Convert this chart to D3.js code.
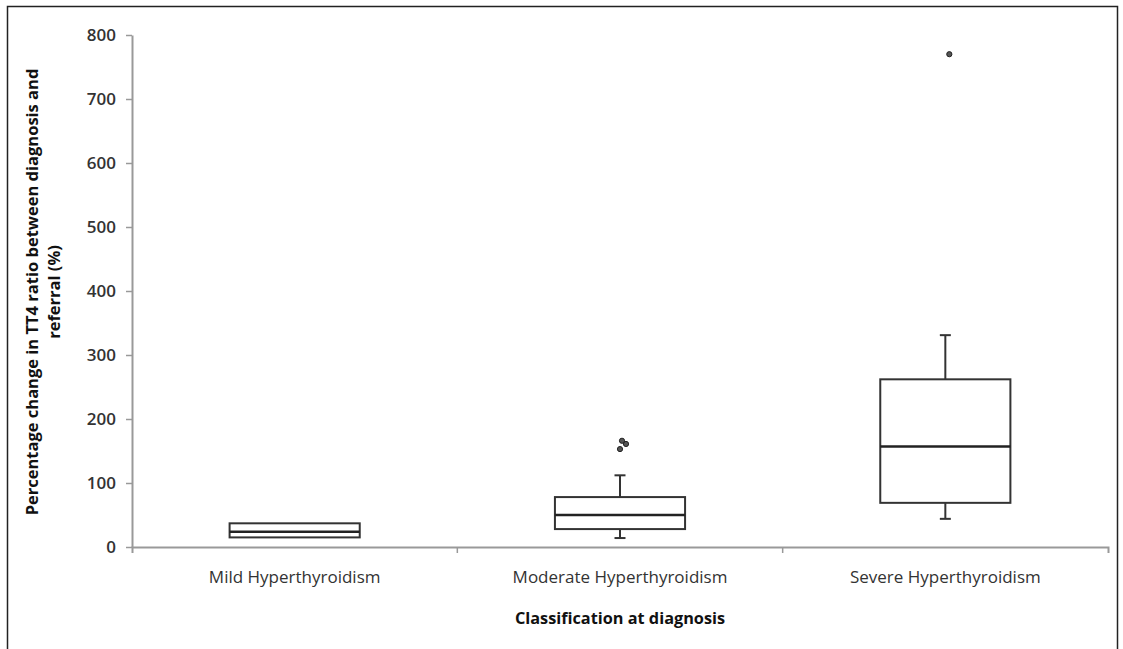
<!DOCTYPE html>
<html>
<head>
<meta charset="utf-8">
<script src="https://cdn.jsdelivr.net/npm/d3@7/dist/d3.min.js"></script>
<style>
  html, body { margin: 0; padding: 0; background: #fff; }
  svg { display: block; }
  text { font-family: "Open Sans", "Liberation Sans", sans-serif; }
</style>
</head>
<body>
<svg id="chart" width="1123" height="649"></svg>
<script>
// ---- data ----
const categories = ["Mild Hyperthyroidism", "Moderate Hyperthyroidism", "Severe Hyperthyroidism"];
const whiskerLow  = [15, 14, 44];
const q1          = [15, 28, 69];
const median      = [24, 50, 157];
const q3          = [37, 78, 262];
const whiskerHigh = [37, 112, 331];
const outliers    = [[], [153, 161, 166], [770]];
const yTicks      = [0, 100, 200, 300, 400, 500, 600, 700, 800];
const yTitle      = ["Percentage change in TT4 ratio between diagnosis and", "referral (%)"];
const xTitle      = "Classification at diagnosis";

// ---- layout ----
const svg = d3.select("#chart");
const plot = { left: 132, right: 1108, top: 35, bottom: 547 };

// frame
svg.append("rect")
  .attr("x", 7.5).attr("y", 6.5)
  .attr("width", 1110).attr("height", 650)
  .attr("fill", "none").attr("stroke", "#222").attr("stroke-width", 1.5);

const x = d3.scaleBand().domain(categories).range([plot.left, plot.right]).paddingInner(0).paddingOuter(0);
const y = d3.scaleLinear().domain([0, 800]).range([plot.bottom, plot.top]);

// y axis
const yAxis = svg.append("g")
  .attr("transform", `translate(${plot.left},0)`)
  .call(d3.axisLeft(y).tickValues(yTicks).tickSize(6).tickPadding(10).tickSizeOuter(0));
yAxis.select(".domain").attr("stroke", "#999").attr("stroke-width", 2);
yAxis.selectAll(".tick line").attr("stroke", "#999").attr("stroke-width", 1.5);
yAxis.selectAll(".tick text")
  .attr("fill", "#333").attr("font-size", 17).attr("font-weight", 600)
  .style("font-family", '"Open Sans", sans-serif');

// x axis
const xAxis = svg.append("g")
  .attr("transform", `translate(0,${plot.bottom})`)
  .call(d3.axisBottom(x).tickSize(0).tickPadding(24).tickSizeOuter(6));
xAxis.select(".domain").attr("stroke", "#999").attr("stroke-width", 2);
xAxis.selectAll(".tick text")
  .attr("fill", "#333").attr("font-size", 17)
  .style("font-family", '"Open Sans", sans-serif');
// boundary tick marks between categories
const bounds = categories.slice(1).map(c => x(c));
xAxis.selectAll(".bnd").data(bounds).enter().append("line")
  .attr("x1", d => d).attr("x2", d => d).attr("y1", 0).attr("y2", 6)
  .attr("stroke", "#999").attr("stroke-width", 1.5);

// boxes
const boxW = x.bandwidth() * 0.4;
const capW = 11;
const stroke = "#333";
const g = svg.append("g");
categories.forEach((c, i) => {
  const cx = x(c) + x.bandwidth() / 2;
  const gg = g.append("g");
  if (whiskerHigh[i] > q3[i]) {
    gg.append("line").attr("x1", cx).attr("x2", cx).attr("y1", y(q3[i])).attr("y2", y(whiskerHigh[i]))
      .attr("stroke", stroke).attr("stroke-width", 2);
    gg.append("line").attr("x1", cx - capW / 2).attr("x2", cx + capW / 2).attr("y1", y(whiskerHigh[i])).attr("y2", y(whiskerHigh[i]))
      .attr("stroke", stroke).attr("stroke-width", 2);
  }
  if (whiskerLow[i] < q1[i]) {
    gg.append("line").attr("x1", cx).attr("x2", cx).attr("y1", y(q1[i])).attr("y2", y(whiskerLow[i]))
      .attr("stroke", stroke).attr("stroke-width", 2);
    gg.append("line").attr("x1", cx - capW / 2).attr("x2", cx + capW / 2).attr("y1", y(whiskerLow[i])).attr("y2", y(whiskerLow[i]))
      .attr("stroke", stroke).attr("stroke-width", 2);
  }
  gg.append("rect")
    .attr("x", cx - boxW / 2).attr("y", y(q3[i]))
    .attr("width", boxW).attr("height", y(q1[i]) - y(q3[i]))
    .attr("fill", "none").attr("stroke", stroke).attr("stroke-width", 2);
  gg.append("line").attr("x1", cx - boxW / 2).attr("x2", cx + boxW / 2)
    .attr("y1", y(median[i])).attr("y2", y(median[i]))
    .attr("stroke", "#222").attr("stroke-width", 2.5);
  outliers[i].forEach((v, k) => {
    gg.append("circle")
      .attr("cx", cx + (outliers[i].length > 1 ? [0, 6, 2][k] : 4))
      .attr("cy", y(v)).attr("r", 2.6)
      .attr("fill", "#555").attr("stroke", "#222").attr("stroke-width", 1);
  });
});

// y title
const yt = svg.append("text")
  .attr("transform", `translate(38,292) rotate(-90)`)
  .attr("text-anchor", "middle")
  .attr("font-weight", 700).attr("font-size", 16.5).attr("fill", "#111");
yTitle.forEach((t, i) => {
  yt.append("tspan").attr("x", 0).attr("dy", i === 0 ? 0 : 22).text(t);
});

// x title
svg.append("text")
  .attr("x", 620).attr("y", 624)
  .attr("text-anchor", "middle")
  .attr("font-weight", 700).attr("font-size", 16.3).attr("fill", "#111")
  .text(xTitle);
</script>
</body>
</html>
